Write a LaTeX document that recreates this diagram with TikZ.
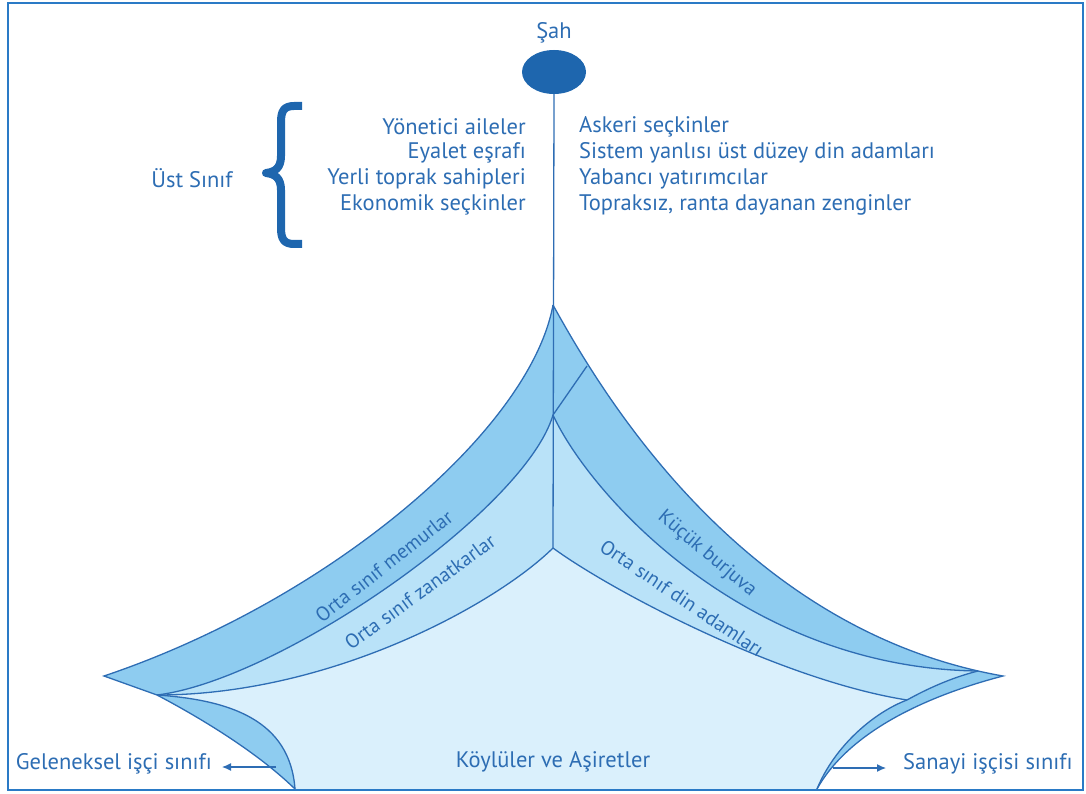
\documentclass[tikz,border=0pt]{standalone}
\usepackage{fontspec}
\setmainfont{PT Sans}
\usetikzlibrary{arrows.meta,shapes.geometric}
\definecolor{lineblue}{HTML}{2E6DB4}
\definecolor{txtblue}{HTML}{2D6DB3}
\definecolor{darkfill}{HTML}{8ECCF0}
\definecolor{midfill}{HTML}{B9E2F8}
\definecolor{palefill}{HTML}{DAF0FC}
\definecolor{dotblue}{HTML}{1E66AE}
\definecolor{framecol}{HTML}{2A7AC6}
\tikzset{
  lbl/.style={text=txtblue, font=\fontsize{22.5}{26}\selectfont, inner sep=0pt},
  bandlbl/.style={text=txtblue, font=\fontsize{20}{24}\selectfont, inner sep=0pt},
  bandline/.style={draw=lineblue, line width=1.3pt},
  arrowst/.style={draw=lineblue, line width=1.2pt, -{Latex[length=9pt,width=8pt]}},
}
\begin{document}
\begin{tikzpicture}[x=1pt,y=-1pt]
\useasboundingbox (0,0) rectangle (1086,794);
% key points
\coordinate (A) at (553,305);
\coordinate (L) at (104,676);
\coordinate (K) at (157,695);
\coordinate (Bl) at (295,789);
\coordinate (Br) at (817,789);
\coordinate (T) at (1003,676);
\coordinate (P) at (978,671);
\coordinate (Q) at (907,700);
\coordinate (M1) at (553,415);
\coordinate (M2) at (553,548);
\coordinate (R1) at (587,366);
% fills
\fill[darkfill] (A) .. controls (530,430) and (330,600) .. (L) -- (K)
  .. controls (195,715) and (255,750) .. (Bl) -- (Br)
  .. controls (850,730) and (930,695) .. (T)
  .. controls (740,630) and (600,390) .. (A) -- cycle;
\fill[midfill] (K) .. controls (280,680) and (525,510) .. (M1)
  .. controls (590,495) and (745,668) .. (P)
  .. controls (950,678) and (925,690) .. (Q)
  .. controls (875,712) and (835,745) .. (Br) -- (Bl)
  .. controls (290,720) and (230,700) .. (K) -- cycle;
\fill[palefill] (M2) .. controls (495,605) and (330,695) .. (K)
  .. controls (230,700) and (290,720) .. (Bl) -- (Br)
  .. controls (835,745) and (875,712) .. (Q)
  .. controls (780,680) and (610,590) .. (M2) -- cycle;
% lines
\draw[bandline] (A) .. controls (530,430) and (330,600) .. (L) -- (K)
  .. controls (195,715) and (255,750) .. (Bl);
\draw[bandline] (A) .. controls (600,390) and (740,630) .. (T)
  .. controls (930,695) and (850,730) .. (Br);
\draw[bandline] (M1) .. controls (525,510) and (280,680) .. (K);
\draw[bandline] (M2) .. controls (495,605) and (330,695) .. (K);
\draw[bandline] (K) .. controls (230,700) and (290,720) .. (Bl);
\draw[bandline] (M1) .. controls (590,495) and (745,668) .. (P);
\draw[bandline] (P) .. controls (950,678) and (925,690) .. (Q);
\draw[bandline] (M2) .. controls (610,590) and (780,680) .. (Q);
\draw[bandline] (Q) .. controls (875,712) and (835,745) .. (Br);
\draw[bandline] (R1) -- (M1);
% top
\node[ellipse, fill=dotblue, minimum width=64pt, minimum height=44pt, inner sep=0pt] (sah) at (554,72) {};
\draw[lineblue, line width=1.3pt] (sah.south) -- (M2);
\node[lbl] (sahl) at (554,33) {Şah};
% brace
\draw[dotblue, line width=8pt, line join=round]
  (302,106) -- (294,106) .. controls (284,106) and (281,111) .. (281,122)
  -- (281,156) .. controls (281,168) and (275,172) .. (266,173)
  .. controls (275,174) and (281,178) .. (281,190)
  -- (281,228) .. controls (281,239) and (284,244) .. (294,244) -- (302,244);
\node[lbl] (ust) at (192,178) {Üst Sınıf};
% left column
\node[lbl, anchor=east] (l1) at (526,127) {Yönetici aileler};
\node[lbl, anchor=east] (l2) at (526,153) {Eyalet eşrafı};
\node[lbl, anchor=east] (l3) at (526,179) {Yerli toprak sahipleri};
\node[lbl, anchor=east] (l4) at (526,205) {Ekonomik seçkinler};
% right column
\node[lbl, anchor=west] (r1) at (579,127) {Askeri seçkinler};
\node[lbl, anchor=west] (r2) at (579,153) {Sistem yanlısı üst düzey din adamları};
\node[lbl, anchor=west] (r3) at (579,179) {Yabancı yatırımcılar};
\node[lbl, anchor=west] (r4) at (579,205) {Topraksız, ranta dayanan zenginler};
% band labels
\node[bandlbl, rotate=38] (b1) at (384,566) {Orta sınıf memurlar};
\node[bandlbl, rotate=36] (b2) at (420,592) {Orta sınıf zanatkarlar};
\node[bandlbl, rotate=-40] (b3) at (707,554) {Küçük burjuva};
\node[bandlbl, rotate=-34] (b4) at (682,598) {Orta sınıf din adamları};
\node[lbl] (b5) at (553,762) {Köylüler ve Aşiretler};
% side labels
\coordinate (ga1) at (276,767);
\coordinate (ga2) at (222,767);
\draw[arrowst] (ga1) -- (ga2);
\node[lbl, anchor=east] (gl) at (212,764) {Geleneksel işçi sınıfı};
\coordinate (sa1) at (833,768);
\coordinate (sa2) at (886,768);
\draw[arrowst] (sa1) -- (sa2);
\node[lbl, anchor=west] (sl) at (903,764) {Sanayi işçisi sınıfı};
% frame
\draw[framecol, line width=1.8pt] (8,3) rectangle (1083,790);
\end{tikzpicture}
\end{document}
